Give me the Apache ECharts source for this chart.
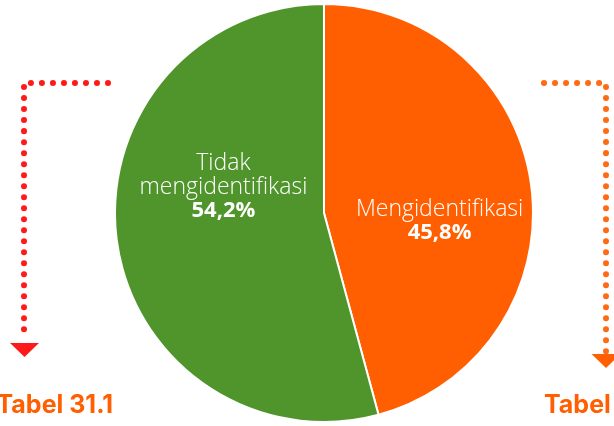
<!DOCTYPE html>
<html>
<head>
<meta charset="utf-8">
<script src="https://cdn.jsdelivr.net/npm/echarts@6/dist/echarts.min.js"></script>
<style>
  html, body { margin: 0; padding: 0; background: #ffffff; }
  #chart { width: 614px; height: 426px; }
</style>
</head>
<body>
<div id="chart"></div>
<script>
// Share of respondents who identify vs. do not identify
const categories = ['Mengidentifikasi', 'Tidak\nmengidentifikasi'];
const values = [45.8, 54.2];
const sliceColors = ['#ff5f00', '#4f952b'];
const sideLabels = ['Tabel 31.1', 'Tabel 31.2'];

const chart = echarts.init(document.getElementById('chart'));

// Dotted connector built from round-capped dashes
function dottedPath(points, color) {
  return {
    type: 'polyline',
    shape: { points: points },
    style: { stroke: color, lineWidth: 6, lineCap: 'round', lineDash: [0.01, 11], fill: null },
    silent: true
  };
}

function arrowHead(cx, topY, color) {
  return {
    type: 'polygon',
    shape: { points: [[cx - 14.5, topY], [cx + 14.5, topY], [cx, topY + 14]] },
    style: { fill: color },
    silent: true
  };
}

function sideText(text, x, y, align) {
  return {
    type: 'text',
    x: x, y: y,
    style: {
      text: text,
      fill: '#ff5f00',
      font: '700 25px Inter, "Noto Sans", sans-serif',
      textAlign: align,
      textVerticalAlign: 'bottom'
    },
    silent: true
  };
}

const labelFont = '"Open Sans", "Noto Sans", sans-serif';
const labelOffsets = [[9, 22], [6, -40]];

chart.setOption({
  animation: false,
  series: [{
    type: 'pie',
    center: [324, 213],
    radius: [0, 209],
    startAngle: 90,
    clockwise: true,
    data: categories.map((name, i) => ({
      name: name,
      value: values[i],
      itemStyle: { color: sliceColors[i] }
    })),
    itemStyle: { borderColor: '#ffffff', borderWidth: 2 },
    label: {
      show: true,
      position: 'inside',
      formatter: p => '{n|' + p.name.split('\n').join('}\n{n|') + '}\n{v|' + p.value.toFixed(1).replace('.', ',') + '%}',
      rich: {
        n: { color: '#ffffff', fontFamily: labelFont, fontWeight: 300, fontSize: 23, lineHeight: 23.5, align: 'center' },
        v: { color: '#ffffff', fontFamily: labelFont, fontWeight: 700, fontSize: 22, lineHeight: 23.5, align: 'center' }
      }
    },
    labelLine: { show: false },
    labelLayout: p => ({ dx: labelOffsets[p.dataIndex][0], dy: labelOffsets[p.dataIndex][1] })
  }],
  graphic: [
    dottedPath([[108, 83], [24, 83], [24, 332]], '#ff1a1a'),
    arrowHead(24.5, 343, '#ff1a1a'),
    sideText(sideLabels[0], 113, 418, 'right'),
    dottedPath([[544, 83], [606, 83], [606, 352]], '#ff6a13'),
    arrowHead(606, 354, '#ff5f00'),
    sideText(sideLabels[1], 544, 418, 'left')
  ]
});
</script>
</body>
</html>
